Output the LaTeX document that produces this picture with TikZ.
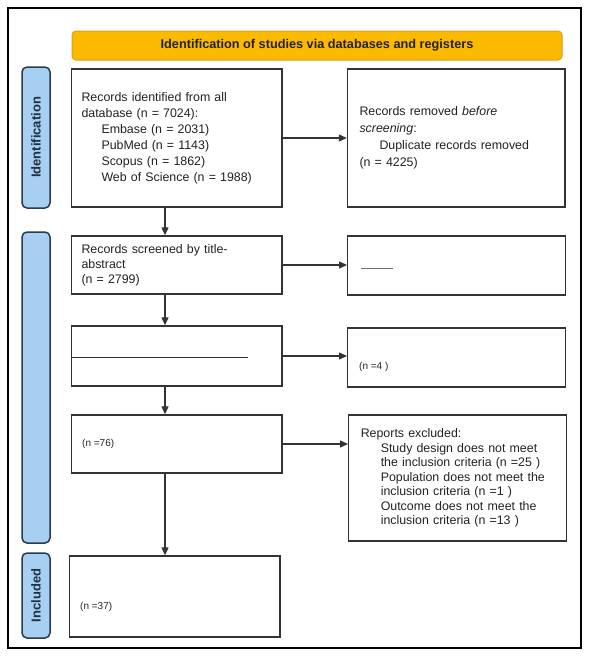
\documentclass[tikz,border=0pt]{standalone}
\usepackage{fontspec}
\setmainfont{Liberation Sans}
\usetikzlibrary{arrows.meta}
\definecolor{hdrfill}{HTML}{FBBA00}
\definecolor{hdrdraw}{HTML}{D9A21A}
\definecolor{sidefill}{HTML}{A6CFF2}
\definecolor{sidedraw}{HTML}{2B3B4E}
\definecolor{boxdraw}{HTML}{333333}
\definecolor{txt}{HTML}{222222}
\begin{document}
\begin{tikzpicture}[x=1pt,y=-1pt,
  every node/.style={text=txt},
  basebox/.style={draw=boxdraw, line width=1.4pt, fill=white, inner ysep=0pt, align=left,
    font=\fontsize{12.4}{16}\selectfont},
  lbox/.style={basebox, minimum width=210.5pt, text width=190.5pt, inner xsep=10pt},
  rbox/.style={basebox, minimum width=217.5pt, text width=193.5pt, inner xsep=12pt},
  sidebar/.style={draw=sidedraw, fill=sidefill, line width=1.5pt, rounded corners=5pt,
    minimum width=28pt, inner sep=0pt},
  sidelabel/.style={rotate=90, font=\bfseries\fontsize{13}{15}\selectfont, text=sidedraw!80!black},
  arr/.style={draw=boxdraw, line width=1.2pt, -{Triangle[length=8pt,width=7pt]}},
  faint/.style={font=\fontsize{10}{12}\selectfont, anchor=west, inner sep=0pt}
]
\useasboundingbox (0,0) rectangle (589,656);
\fill[white] (0,0) rectangle (589,656);
\draw[black, line width=2pt] (8,8) rectangle (581,648);

% header
\node[draw=hdrdraw, fill=hdrfill, line width=1pt, rounded corners=4pt,
  minimum width=490pt, minimum height=29pt, inner sep=0pt,
  font=\bfseries\fontsize{12.7}{14}\selectfont] (hdr) at (317,45.5)
  {Identification of studies via databases and registers};

% sidebars
\node[sidebar, minimum height=141pt] (sid) at (36,137.5) {};
\node[sidelabel] (sidl) at (sid.center) {Identification};
\node[sidebar, minimum height=311pt] (sscr) at (36,387.5) {};
\node[sidebar, minimum height=85pt] (sinc) at (36,595.5) {};
\node[sidelabel] (sincl) at (sinc.center) {Included};

% left column
\node[lbox, minimum height=138pt] (b1) at (176.75,138)
  {Records identified from all\\database (n = 7024):\\
   \hspace*{20pt}Embase (n = 2031)\\
   \hspace*{20pt}PubMed (n = 1143)\\
   \hspace*{20pt}Scopus (n = 1862)\\
   \hspace*{20pt}Web of Science (n = 1988)};
\node[lbox, minimum height=58pt, font=\fontsize{12.4}{15}\selectfont] (b2) at (176.75,265)
  {Records screened by title-\\abstract\\(n = 2799)};
\node[lbox, minimum height=60pt] (b3) at (176.75,356) {};
\node[lbox, minimum height=58pt] (b4) at (176.75,444) {};
\node[lbox, minimum height=81pt] (b5) at (174.75,596.5) {};

% right column
\node[rbox, minimum height=138pt, font=\fontsize{12.4}{17}\selectfont] (r1) at (456.25,138)
  {Records removed \textit{before}\\\textit{screening}:\\
   \hspace*{20pt}Duplicate records removed\\(n = 4225)};
\node[rbox, minimum height=59pt] (r2) at (456.5,265.5) {};
\node[rbox, minimum height=59pt] (r3) at (456.5,357.5) {};
\node[rbox, minimum width=217pt, minimum height=126pt, inner xsep=12pt,
  font=\fontsize{12.4}{14.5}\selectfont] (r4) at (457.5,478)
  {Reports excluded:\\
   \hspace*{20pt}Study design does not meet\\
   \hspace*{20pt}the inclusion criteria (n =25 )\\
   \hspace*{20pt}Population does not meet the\\
   \hspace*{20pt}inclusion criteria (n =1 )\\
   \hspace*{20pt}Outcome does not meet the\\
   \hspace*{20pt}inclusion criteria (n =13 )};

% partly legible remains
\draw[boxdraw, line width=1pt] (b3.west |- 0,357) -- (248,357);
\draw[boxdraw!70, line width=0.8pt] (361,268) -- (393,268);
\node[faint] (r3t) at (359,367) {(n =4 )};
\node[faint] (b4t) at (82,444) {(n =76)};
\node[faint] (b5t) at (80,607) {(n =37)};

% connectors
\coordinate (ax) at (165,0);
\draw[arr] (b1.south -| ax) -- (b2.north -| ax);
\draw[arr] (b2.south -| ax) -- (b3.north -| ax);
\draw[arr] (b3.south -| ax) -- (b4.north -| ax);
\draw[arr] (b4.south -| ax) -- (b5.north -| ax);
\draw[arr] (b1.east) -- (b1.east -| r1.west);
\draw[arr] (b2.east) -- (b2.east -| r2.west);
\draw[arr] (b3.east) -- (b3.east -| r3.west);
\draw[arr] (b4.east) -- (b4.east -| r4.west);
\end{tikzpicture}
\end{document}
